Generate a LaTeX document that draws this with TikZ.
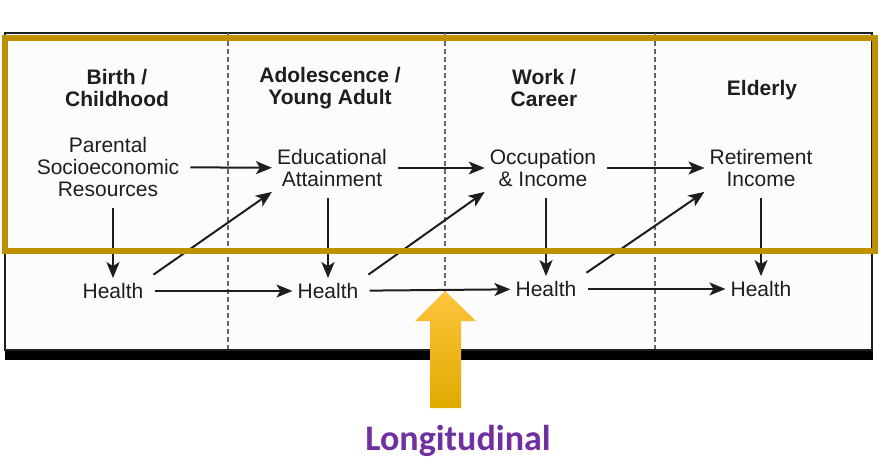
\documentclass[tikz,border=0pt]{standalone}
\usepackage{fontspec}
\setmainfont{Liberation Sans}
\newfontfamily\calibri{Carlito}
\usetikzlibrary{arrows.meta}
\definecolor{gold}{RGB}{191,144,0}
\definecolor{ink}{RGB}{30,30,30}
\definecolor{purp}{RGB}{112,48,160}
\definecolor{ytop}{RGB}{255,196,60}
\definecolor{ymid}{RGB}{255,192,0}
\definecolor{ybot}{RGB}{224,170,0}

\begin{document}
\begin{tikzpicture}[x=1pt,y=-1pt,
    lbl/.style={text=ink,align=center,inner sep=5pt,font=\fontsize{21}{22}\selectfont},
    hdr/.style={lbl,font=\bfseries\fontsize{21}{22}\selectfont},
    conn/.style={draw=ink,line width=2pt,shorten <=6pt,-{Stealth[length=16pt,width=13pt,inset=4pt]}},
    divider/.style={draw=gray!80!black,line width=1.2pt,dash pattern=on 5pt off 3pt}]
    \useasboundingbox (0,0) rectangle (895,468);
    % frame of the diagram
    \fill[gray!2] (5,33) rectangle (872,350);
    \fill[black] (5,349) rectangle (873,360);
    \draw[line width=1.5pt,ink] (5,33) rectangle (872,350);
    \foreach \x in {228,445,655}
      \draw[divider] (\x,33) -- (\x,349);
    % life stages
    \node[hdr] (birth) at (117,88) {Birth /\\Childhood};
    \node[hdr] (young) at (330,88) {Adolescence /\\Young Adult};
    \node[hdr] (work) at (544,88) {Work /\\Career};
    \node[hdr] (old) at (762,90) {Elderly};
    \node[lbl] (par) at (108,167) {Parental\\Socioeconomic\\Resources};
    \node[lbl] (edu) at (332,168) {Educational\\Attainment};
    \node[lbl] (occ) at (543,168) {Occupation\\\& Income};
    \node[lbl] (ret) at (761,168) {Retirement\\Income};
    \node[lbl] (h1) at (113,291) {Health};
    \node[lbl] (h2) at (328,291) {Health};
    \node[lbl] (h3) at (546,289) {Health};
    \node[lbl] (h4) at (761,289) {Health};
    % connectors
    \draw[conn] (par) -- (edu);
    \draw[conn] (edu) -- (occ);
    \draw[conn] (occ) -- (ret);
    \draw[conn] (par.south -| h1) -- (h1.north);
    \draw[conn] (edu.south -| h2) -- (h2.north);
    \draw[conn] (occ.south -| h3) -- (h3.north);
    \draw[conn] (ret.south -| h4) -- (h4.north);
    \draw[conn] (h1.north east) -- (edu.south west);
    \draw[conn] (h2.north east) -- (occ.south west);
    \draw[conn] (h3.north east) -- (ret.south west);
    \draw[conn] (h1) -- (h2);
    \draw[conn] (h2) -- (h3);
    \draw[conn] (h3) -- (h4);
    % highlight
    \draw[gold,line width=6pt] (5,38) rectangle (875,251);
    \shade[top color=ytop,middle color=ymid,bottom color=ybot]
      (430,408) -- (430,321) -- (415,321) -- (445,291) -- (476,321) -- (461,321) -- (461,408) -- cycle;
    \node[text=purp,font=\calibri\bfseries\fontsize{36}{40}\selectfont] (lon) at (458,441) {Longitudinal};
  \end{tikzpicture}
\end{document}
